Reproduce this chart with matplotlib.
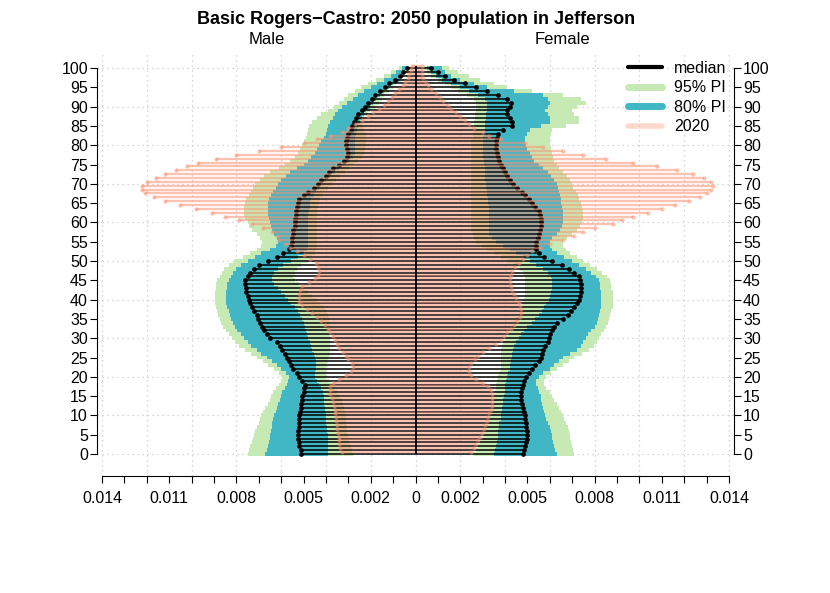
import numpy as np
import matplotlib
matplotlib.use("Agg")
import matplotlib.pyplot as plt
from matplotlib.lines import Line2D

plt.rcParams['font.family'] = ['Liberation Sans', 'DejaVu Sans']

# single-year ages 0..100, values are proportions in units of 1e-4
ages = np.arange(0, 101)
unit = 1e-4

# male, 2050 projection
m_med = [51, 51, 52, 52, 52.5, 52.5, 52.5, 52, 52, 52,
         52, 51.5, 51, 51, 50.5, 50.5, 50, 50, 49.5, 50.5,
         52, 53, 54.5, 55.5, 56.5, 57.5, 58.5, 59.5, 60.5, 62,
         65, 66.5, 67.5, 68.5, 69.5, 70.5, 71, 72, 73, 74,
         74.5, 75, 75.5, 75.5, 76, 76, 75, 74, 72, 70,
         66, 62, 59, 56.5, 55.5, 55, 55, 54.5, 54.5, 54,
         54, 54, 53.5, 53.5, 53, 52.5, 52, 50, 48, 45.5,
         43.5, 42, 40, 38.5, 37, 34, 32, 30.5, 30, 30.5,
         31, 31, 30.5, 30, 29, 28.5, 27.5, 26.5, 25.5, 24,
         22.5, 21, 19.5, 18, 16, 13.5, 12, 9, 7, 5.5,
         4]
m_lo95 = [28, 28.5, 29, 29.5, 30, 30, 30.5, 30.5, 31, 31,
          31, 31.5, 32, 32.5, 33, 34, 35, 36, 37, 38.5,
          40, 40, 40, 39.5, 39, 38.5, 38, 38, 38, 38,
          38, 38, 38, 38, 38, 38.5, 39, 40, 41, 42.5,
          44, 46, 48, 50, 52, 54, 54.5, 54, 53, 51,
          48, 46, 45, 44.5, 44, 44, 44, 44, 44, 44,
          44, 44, 44, 44, 43.5, 43, 42.5, 41.5, 40.5, 39,
          37.5, 35.5, 33.5, 31.5, 29.5, 27.5, 25.5, 24, 23, 22.5,
          22, 22, 22, 22, 23, 23.5, 24, 23, 21.5, 20.5,
          18, 16.5, 15, 14, 12, 10, 8.5, 6.5, 5, 3.5,
          2.5]
m_lo80 = [39, 39, 39, 39, 39, 39, 39.5, 39.5, 40, 40,
          40, 40.5, 40.5, 41, 41, 41, 41.5, 42, 43, 44,
          45, 45, 44.5, 44.5, 44.5, 45, 45.5, 46, 46.5, 47,
          48, 48.5, 49, 49.5, 50, 50.5, 51.5, 52.5, 54, 55.5,
          57, 58.5, 60, 61.5, 63, 64, 64, 63, 61.5, 59,
          55.5, 52.5, 50, 48.5, 48, 48, 48, 48, 48, 48,
          48, 48, 48, 47.5, 47, 47, 46.5, 45.5, 44.5, 43,
          42, 40, 38, 36, 34, 31.5, 29.5, 28, 27, 27,
          27, 27, 27, 26.5, 26, 25.5, 25, 24, 23, 22,
          20.5, 19, 17.5, 16, 14, 12, 10, 7.5, 6, 4.5,
          3.5]
m_hi80 = [67, 66.5, 66, 65.5, 65, 65, 64.5, 64, 64, 63.5,
          63, 62.5, 62, 61.5, 60.5, 60, 59.5, 58.5, 57.5, 57,
          56.5, 58, 60, 62, 64, 66.5, 69, 71, 73.5, 75,
          76.5, 78, 79.5, 80.5, 81.5, 82.5, 83, 83.5, 84, 84.5,
          84.5, 84.5, 84.5, 84, 84, 83.5, 82.5, 81.5, 80, 78,
          75, 71.5, 69, 65, 62.5, 61.5, 62, 63, 64, 64.5,
          65, 65.5, 66, 66, 66, 66, 65.5, 64.5, 63.5, 62.5,
          61.5, 60, 58, 56, 53, 50, 48, 46.5, 45, 44,
          43, 42, 41, 40, 39.5, 39, 38, 37, 36, 34.5,
          33, 30.5, 28, 25.5, 23, 20, 17, 14, 11, 8.5,
          6]
m_hi95 = [75, 74.5, 74, 73, 72.5, 72, 71.5, 71, 70, 69.5,
          69, 68, 67, 66, 65, 64.5, 63.5, 62.5, 61, 60,
          59.5, 61, 63, 66, 68, 71, 73.5, 76, 79, 80.5,
          82, 83.5, 84.5, 86, 87, 87.5, 88, 88.5, 89, 89.5,
          89.5, 89.5, 89.5, 89, 89, 88.5, 87.5, 86.5, 85.5, 83.5,
          81, 77, 74, 71, 69, 68.5, 69.5, 71, 73, 74.5,
          75, 76, 76.5, 76.5, 76.5, 76, 75.5, 74.5, 73.5, 72.5,
          71.5, 69.5, 67.5, 65, 61, 58.5, 56, 54, 52.5, 51.5,
          50.5, 50, 49, 48.5, 48, 47.5, 46, 44, 42, 39,
          36.5, 34, 32, 30, 27, 24.5, 21, 17.5, 14, 11,
          7.5]
# male, 2020
m_2020 = [33, 33.5, 34, 34, 34, 34.5, 35, 35, 35.5, 35.5,
          36, 36, 36.5, 37, 37.5, 38, 38, 38, 37, 34,
          31, 29, 28, 28.5, 30, 31, 32.5, 34, 35, 36,
          37, 38, 39, 40.5, 42, 44, 46, 48.5, 50.5, 52,
          52, 52, 51.5, 50.5, 47.5, 45, 43.5, 43, 43.5, 44.5,
          47, 50, 53, 56, 58.5, 61, 62, 64, 68, 73,
          79, 85, 91, 98, 105, 112, 117, 121, 122, 122,
          120, 116, 112, 107, 102, 97, 89, 80, 70, 60,
          50, 44, 38, 33, 30, 27, 24, 21, 19, 16.5,
          14, 12.5, 10.5, 9, 7.5, 5.5, 4.5, 3.5, 3, 2,
          1.5]

# female, 2050 projection
f_med = [48, 48.5, 49, 49.5, 50, 50, 50, 49.5, 49.5, 49,
         49, 48.5, 48, 47.5, 47, 47, 47, 47.5, 48, 48.5,
         49.5, 50.5, 52, 53.5, 55, 56, 56.5, 57, 58, 59,
         59.5, 60, 61, 62, 63, 66, 68, 69.5, 71, 72,
         73, 73.5, 74, 74, 74, 73.5, 73, 71, 68.5, 65.5,
         61, 57.5, 55, 54, 54, 54, 54.5, 55, 55.5, 56,
         56, 56, 55.5, 55, 53.5, 52, 50.5, 49, 47.5, 45.5,
         43.5, 42, 41, 40, 39, 38, 37.5, 37, 36.5, 36,
         36, 36, 36.5, 37, 39, 43, 43, 42, 41, 41,
         42, 42.5, 41, 37, 32, 27, 22, 17, 13, 10,
         7]
f_lo95 = [26, 27, 28, 29, 30, 30, 30.5, 31, 32, 32.5,
          33, 33.5, 34, 34.5, 35, 35, 35.5, 36, 36, 36.5,
          37, 37.5, 38, 38, 38, 38, 38, 38, 38.5, 39,
          40, 41, 42, 43, 44, 45, 46, 47, 47.5, 48,
          48.5, 49, 49, 49, 49, 49, 49, 48, 46.5, 44,
          41, 38, 35, 32, 29.5, 27, 26, 25.5, 25, 25,
          25, 25, 25, 25, 25, 25, 25, 25, 25, 25,
          25, 25, 25, 25, 25, 25, 25, 25, 25, 25,
          25, 25, 25.5, 25.5, 26, 26, 26, 26.5, 26.5, 27,
          27, 27, 26, 23, 19, 16, 13, 10, 7, 5,
          4]
f_lo80 = [35, 35.5, 36, 36.5, 37, 37, 37, 37.5, 37.5, 38,
          38, 38.5, 38.5, 39, 39, 39.5, 40, 40, 40, 40.5,
          41, 41.5, 42, 42, 42.5, 43, 43, 43.5, 44, 45,
          46, 47, 48.5, 50, 52, 53.5, 55, 56.5, 57.5, 58.5,
          59.5, 60, 60.5, 61, 61, 61, 60.5, 59, 57, 54,
          51, 48, 45, 42, 39, 36, 34, 33, 33, 33,
          33, 33, 33, 33, 33, 32.5, 32.5, 32, 32, 31.5,
          31.5, 31, 31, 31, 31, 30.5, 30.5, 30, 30, 30,
          30, 30, 30, 30.5, 31, 31, 31, 31.5, 31.5, 32,
          32, 32, 31, 28, 24, 20, 16, 12, 9, 7,
          5]
f_hi80 = [63, 62.5, 62, 61.5, 61, 61, 60.5, 60, 59, 58.5,
          58, 57.5, 57, 56.5, 56, 56, 55, 54.5, 54, 54,
          55, 57, 60, 62, 64, 66, 69, 72, 74, 75,
          76, 77, 78.5, 80, 81, 81.5, 82, 82.5, 83, 83,
          83, 83, 83, 82.5, 82.5, 82, 80.5, 78.5, 76, 73,
          70, 66.5, 63, 61, 60, 60, 61, 63, 64.5, 65.5,
          66, 66, 66, 66, 65.5, 65, 65, 64.5, 64, 63.5,
          63, 62, 60.5, 59, 57, 55, 53, 52, 51, 50,
          49.5, 49, 49, 50, 51, 56, 60, 60, 59, 58,
          59, 60, 59, 57, 44, 32, 26, 20, 16, 13,
          12]
f_hi95 = [71, 70.5, 70, 69.5, 69, 69, 68.5, 68, 67, 66.5,
          66, 65, 64, 63, 62, 61, 60, 58.5, 57.5, 57.5,
          58.5, 60.5, 63, 66, 68.5, 71, 74.5, 77.5, 79.5, 81,
          82, 83, 84, 85, 86, 86.5, 87, 87.5, 88, 88,
          88, 88, 88, 87.5, 87.5, 87, 85.5, 83.5, 81, 78,
          75, 72, 69, 67, 66, 66, 67.5, 70, 72, 73.5,
          74.5, 75, 75, 75, 74.5, 74, 73, 72.5, 71.5, 70.5,
          70, 69, 67.5, 66, 64, 63, 62, 61.5, 61, 60.5,
          60, 60, 60, 60.5, 61, 67, 73, 73, 71, 70,
          72, 76, 74, 66, 52, 41, 35, 29, 24, 19,
          15]
# female, 2020
f_2020 = [25, 26, 27, 28, 29, 29.5, 30.5, 31, 32, 32.5,
          33, 33.5, 34, 34, 34, 34, 33.5, 32.5, 30, 27,
          25, 24, 24, 25, 26.5, 28, 30, 33, 36, 38,
          39.5, 41, 42.5, 44, 45.5, 46.5, 47, 47, 46.5, 46,
          45, 44, 43, 42.5, 42, 42, 42.5, 43, 44.5, 46,
          48, 50, 52, 56, 60, 66, 71, 75, 80, 88,
          92, 97, 104, 110, 116, 122, 127, 130, 132, 133,
          132, 129, 124, 117, 108, 97, 85, 75, 66, 57,
          49, 38, 33, 30, 26, 24, 22, 20, 18, 16,
          14.5, 12.5, 11, 9, 7, 5.5, 4.5, 3.5, 3, 3,
          3]

xtick_vals = [-0.014, -0.011, -0.008, -0.005, -0.002, 0,
              0.002, 0.005, 0.008, 0.011, 0.014]
xtick_labels = ['0.014', '0.011', '0.008', '0.005', '0.002', '0',
                '0.002', '0.005', '0.008', '0.011', '0.014']

m_med, m_lo95, m_lo80, m_hi80, m_hi95, m_2020 = [np.array(a) * unit for a in
    (m_med, m_lo95, m_lo80, m_hi80, m_hi95, m_2020)]
f_med, f_lo95, f_lo80, f_hi80, f_hi95, f_2020 = [np.array(a) * unit for a in
    (f_med, f_lo95, f_lo80, f_hi80, f_hi95, f_2020)]

col95 = '#C7E9B4'
col80 = '#41B6C4'
colbase = '#FC9272'

fig = plt.figure(figsize=(8.3, 5.93), dpi=100)
ax = fig.add_axes([97/830, 117/593, 637/830, 423.4/593])
ax.set_xlim(-0.014224, 0.014224)
ax.set_ylim(-5.7, 104)

# dotted grid
gridkw = dict(color='#c8c8c8', lw=0.9, linestyle=(0, (1, 3)), zorder=0)
for gx in np.arange(-7, 8) * 0.002:
    ax.axvline(gx, **gridkw)
for gy in range(0, 101, 10):
    ax.axhline(gy, **gridkw)

# prediction intervals
ax.barh(ages, m_hi95 - m_lo95, left=-m_hi95, height=1, color=col95, lw=0, zorder=1)
ax.barh(ages, f_hi95 - f_lo95, left=f_lo95, height=1, color=col95, lw=0, zorder=1)
ax.barh(ages, m_hi80 - m_lo80, left=-m_hi80, height=1, color=col80, lw=0, zorder=2)
ax.barh(ages, f_hi80 - f_lo80, left=f_lo80, height=1, color=col80, lw=0, zorder=2)

# median
ax.hlines(ages, -m_med, 0, color='black', lw=1.1, zorder=3)
ax.hlines(ages, 0, f_med, color='black', lw=1.1, zorder=3)
ax.plot(-m_med, ages, 'o', color='black', ms=3.4, mew=0, zorder=3)
ax.plot(f_med, ages, 'o', color='black', ms=3.4, mew=0, zorder=3)

# 2020 population, drawn half a year up so it sits between the median lines
yb = ages + 0.5
ax.hlines(yb, -m_2020, 0, color=colbase, alpha=0.55, lw=1.7, zorder=4)
ax.hlines(yb, 0, f_2020, color=colbase, alpha=0.55, lw=1.7, zorder=4)
ax.plot(-m_2020, yb, 'o', color=colbase, alpha=0.55, ms=3, mew=0, zorder=4)
ax.plot(f_2020, yb, 'o', color=colbase, alpha=0.55, ms=3, mew=0, zorder=4)

ax.vlines(0, 0, 100.5, color='black', lw=1.3, zorder=5)

# axes
ax.spines['top'].set_visible(False)
ax.spines['left'].set_bounds(0, 100)
ax.spines['right'].set_bounds(0, 100)
ax.spines['bottom'].set_bounds(-0.014, 0.014)
for s in ('left', 'right', 'bottom'):
    ax.spines[s].set_linewidth(0.8)

ax.set_xticks(xtick_vals)
ax.set_xticklabels(xtick_labels)
ax.set_xticks(np.arange(-14, 15) * 0.001, minor=True)
ax.tick_params(axis='x', which='both', length=5, width=0.8, pad=5.5, labelsize=11.5)
ax.set_yticks(range(0, 101, 5))
ax.tick_params(axis='y', left=True, right=True, labelleft=True, labelright=True,
               length=5, width=0.8, pad=1.5, labelsize=11.5)

fig.text(416/830, 1 - 19/593, 'Basic Rogers\u2212Castro: 2050 population in Jefferson',
         ha='center', va='center', fontsize=13, fontweight='bold')
fig.text(267/830, 1 - 40/593, 'Male', ha='center', va='center', fontsize=12)
fig.text(562/830, 1 - 40/593, 'Female', ha='center', va='center', fontsize=12)

handles = [Line2D([], [], color='black', lw=3, solid_capstyle='round'),
           Line2D([], [], color=col95, lw=5, solid_capstyle='round'),
           Line2D([], [], color=col80, lw=5, solid_capstyle='round'),
           Line2D([], [], color=colbase, alpha=0.35, lw=4, solid_capstyle='round')]
ax.legend(handles, ['median', '95% PI', '80% PI', '2020'], loc='upper left',
          bbox_to_anchor=(628/830, 1 - 61/593), bbox_transform=fig.transFigure,
          frameon=False, borderpad=0, borderaxespad=0, handlelength=2.1,
          handletextpad=0.8, labelspacing=0.28, fontsize=11.5)

fig.savefig('out.png', dpi=100)
